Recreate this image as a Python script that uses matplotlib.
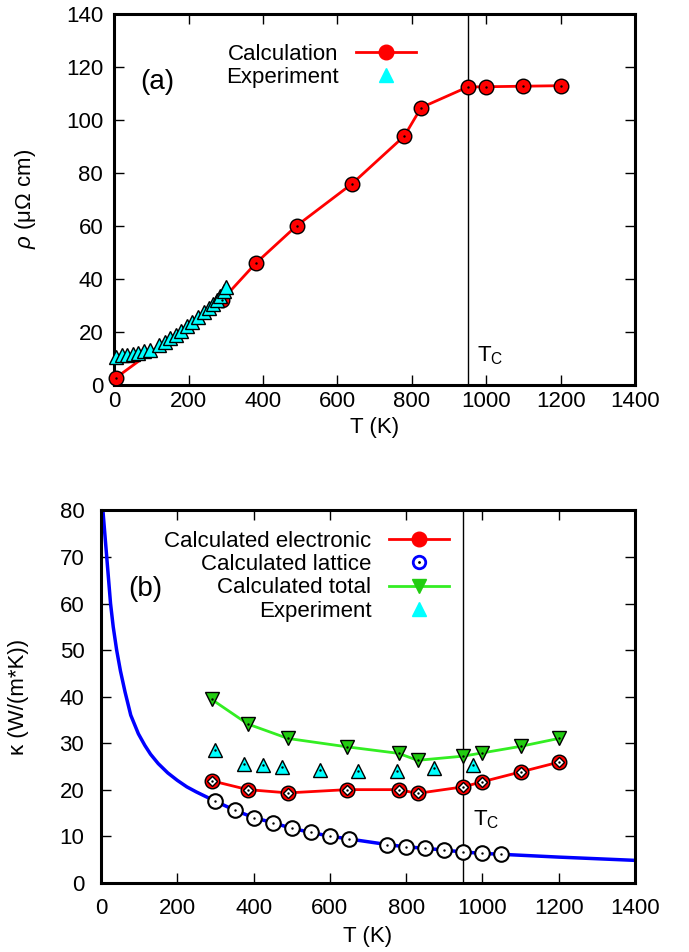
import numpy as np
import matplotlib
matplotlib.use("Agg")
import matplotlib.pyplot as plt
from matplotlib.lines import Line2D
from matplotlib.legend_handler import HandlerTuple

plt.rcParams['font.family'] = ['Liberation Sans', 'DejaVu Sans']
plt.rcParams['mathtext.fontset'] = 'custom'
plt.rcParams['mathtext.rm'] = 'Liberation Sans'
plt.rcParams['mathtext.it'] = 'Liberation Sans:italic'

# (a) resistivity
T_calc = [4, 290, 380, 490, 640, 780, 825, 950, 1000, 1100, 1200]
rho_calc = [2.5, 32, 45.8, 60, 76, 94, 104.7, 112.5, 112.6, 112.8, 113]
T_exp = [5, 20, 35, 50, 65, 80, 95, 120, 135, 150, 165, 180, 195, 210, 225,
         240, 255, 265, 275, 285, 295, 300]
rho_exp = [10.5, 11, 11.3, 11.6, 12, 12.6, 13.2, 15, 16.2, 17.5, 18.8, 20.2, 22,
           23.8, 25.5, 27.3, 29, 30.5, 32, 33.5, 35.5, 37]

# (b) thermal conductivity
T_el = [290, 385, 490, 645, 780, 830, 950, 1000, 1100, 1200]
k_el = [21.9, 20.0, 19.3, 20.0, 20.0, 19.2, 20.6, 21.7, 23.8, 25.9]
k_tot = [39.4, 34.1, 31.0, 29.2, 27.8, 26.3, 27.2, 27.9, 29.3, 31.0]
T_kexp = [299, 374, 424, 475, 574, 674, 775, 874, 974]
k_exp = [28.5, 25.6, 25.3, 24.9, 24.3, 24.0, 24.0, 24.7, 25.4]
T_lat = [300, 350, 400, 450, 500, 550, 600, 650, 750, 800, 850, 900, 950, 1000, 1050]
k_lat = [17.5, 15.6, 14.0, 12.9, 11.7, 10.8, 10.0, 9.4, 8.2, 7.7, 7.4, 7.0, 6.6, 6.3, 6.1]
T_curve = [5, 10, 15, 20, 25, 32, 41, 51, 63, 78, 98, 115, 130, 150, 175, 200,
           225, 250, 275, 300, 350, 400, 450, 500, 550, 600, 650, 750, 800, 850,
           900, 950, 1000, 1050, 1200, 1400]
k_curve = [80, 75, 70, 65, 60, 55, 50, 45.5, 41, 36, 32, 29.5, 27.6, 25.6, 23.6,
           22.0, 20.6, 19.5, 18.5, 17.5, 15.6, 14.0, 12.9, 11.7, 10.8, 10.0, 9.4,
           8.2, 7.7, 7.4, 7.0, 6.6, 6.3, 6.1, 5.5, 4.8]

Tc = 950
fs = 16
green = '#33ee22'


def dots(ax, x, y):
    ax.plot(x, y, ls='none', marker='.', ms=1.5, color='black', zorder=6, clip_on=False)


def style(ax, xpad, ypad):
    ax.tick_params(direction='in', top=True, right=True, length=7, width=1,
                   labelsize=fs)
    ax.tick_params(axis='x', pad=xpad)
    ax.tick_params(axis='y', pad=ypad)
    for s in ax.spines.values():
        s.set_linewidth(2.2)


fig = plt.figure(figsize=(6.89, 9.52), dpi=100)

# ---- panel (a)
ax1 = fig.add_axes([0.1659, 0.5961, 0.7557, 0.3889])
ax1.axvline(Tc, color='black', lw=1, zorder=1)
ax1.plot(T_calc, rho_calc, color='red', lw=2, marker='o', ms=10.5, mfc='red',
         mec='black', mew=1, zorder=3, clip_on=False)
dots(ax1, T_calc, rho_calc)
ax1.plot(T_exp, rho_exp, ls='none', marker='^', ms=10.5, mfc='cyan', mec='black',
         mew=1, zorder=5, clip_on=False)
ax1.set_xlim(0, 1400)
ax1.set_ylim(0, 140)
ax1.set_xticks(np.arange(0, 1401, 200))
ax1.set_yticks(np.arange(0, 141, 20))
ax1.set_xlabel('T (K)', fontsize=fs, labelpad=3)
ax1.set_ylabel(r'$\rho$ (μΩ cm)', fontsize=fs, labelpad=20)
ax1.text(0.083, 0.817, '(a)', transform=ax1.transAxes, fontsize=20, ha='center', va='center')
ax1.text(975, 11, r'T$_\mathregular{C}$', fontsize=fs, va='center')
style(ax1, 5, 8)

h1 = [Line2D([], [], color='red', lw=2, marker='o', ms=10.5, mfc='red', mec='red'),
      Line2D([], [], ls='none', marker='^', ms=10.5, mfc='cyan', mec='cyan')]
ax1.legend(h1, ['Calculation', 'Experiment'], loc='upper right',
           bbox_to_anchor=(0.58, 0.92), markerfirst=False, frameon=False,
           handlelength=2.7, fontsize=fs, borderpad=0, borderaxespad=0,
           labelspacing=0.1, handletextpad=0.8)

# ---- panel (b)
ax2 = fig.add_axes([0.1466, 0.0728, 0.775, 0.391])
ax2.axvline(Tc, color='black', lw=1, zorder=1)
ax2.plot(T_curve, k_curve, color='blue', lw=2.5, zorder=2)
ax2.plot(T_lat, k_lat, ls='none', marker='o', ms=10.5, mfc='white', mec='black',
         mew=1.5, zorder=4)
dots(ax2, T_lat, k_lat)
ax2.plot(T_el, k_tot, color=green, lw=2, marker='v', ms=10.5, mfc='#22cc11',
         mec='black', mew=1, zorder=3)
dots(ax2, T_el, k_tot)
ax2.plot(T_el, k_el, color='red', lw=2, marker='o', ms=10.5, mfc='red',
         mec='black', mew=1, zorder=3)
ax2.plot(T_el, k_el, ls='none', marker='D', ms=5.5, mfc='white', mec='black',
         mew=1, zorder=4)
dots(ax2, T_el, k_el)
ax2.plot(T_kexp, k_exp, ls='none', marker='^', ms=10.5, mfc='cyan', mec='black',
         mew=1, zorder=5)
dots(ax2, T_kexp, k_exp)
ax2.set_xlim(0, 1400)
ax2.set_ylim(0, 80)
ax2.set_xticks(np.arange(0, 1401, 200))
ax2.set_yticks(np.arange(0, 81, 10))
ax2.set_xlabel('T (K)', fontsize=fs, labelpad=5)
ax2.set_ylabel('κ (W/(m*K))', fontsize=fs, labelpad=22)
ax2.text(0.083, 0.79, '(b)', transform=ax2.transAxes, fontsize=20, ha='center', va='center')
ax2.text(975, 13.5, r'T$_\mathregular{C}$', fontsize=fs, va='center')
style(ax2, 11, 12)

lat_h = (Line2D([], [], ls='none', marker='o', ms=9, mfc='white', mec='blue', mew=2),
         Line2D([], [], ls='none', marker='.', ms=2, color='black'))
h2 = [Line2D([], [], color='red', lw=2, marker='o', ms=10.5, mfc='red', mec='red'),
      lat_h,
      Line2D([], [], color=green, lw=2, marker='v', ms=10.5, mfc='#22cc11', mec='#22cc11'),
      Line2D([], [], ls='none', marker='^', ms=10.5, mfc='cyan', mec='cyan')]
ax2.legend(h2, ['Calculated electronic', 'Calculated lattice', 'Calculated total',
                'Experiment'], loc='upper right', bbox_to_anchor=(0.652, 0.945),
           markerfirst=False, frameon=False, handlelength=2.7, fontsize=fs,
           borderpad=0, borderaxespad=0, labelspacing=0.1, handletextpad=0.8,
           handler_map={tuple: HandlerTuple(ndivide=1)})

fig.savefig('out.png', dpi=100)
